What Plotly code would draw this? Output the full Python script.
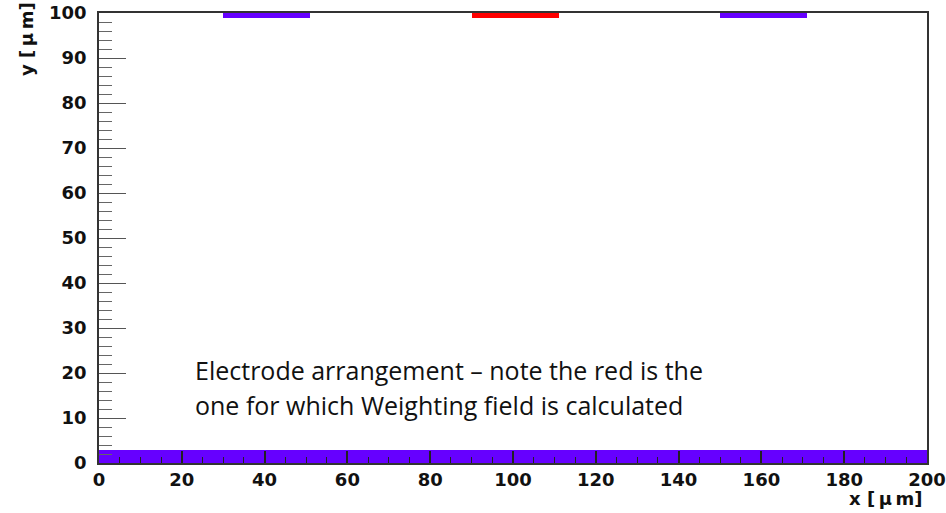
import plotly.graph_objects as go

# Electrode geometry (micrometres)
top_x0 = [30, 90, 150]
top_x1 = [51, 111, 171]
top_colors = ["#6600ff", "#ff0000", "#6600ff"]
top_y0 = 98.9
top_y1 = 100.0

back_x0 = 0
back_x1 = 200
back_y0 = 0
back_y1 = 3.0

x_range = [0, 200]
y_range = [0, 100]

x_title = "x [\u2009\u03bc\u2009m]"
y_title = "y [\u2009\u03bc\u2009m]"

note_lines = [
    "Electrode arrangement \u2013 note the red is the",
    "one for which Weighting field is calculated",
]
note_x = 22.8
note_y = [20.6, 12.8]

fig = go.Figure()

# Backplane electrode along the bottom
fig.add_trace(go.Bar(
    x=[(back_x0 + back_x1) / 2], width=[back_x1 - back_x0],
    base=[back_y0], y=[back_y1 - back_y0],
    marker=dict(color="#6600ff", line=dict(width=0)),
    hoverinfo="skip", showlegend=False,
))

# Readout strips along the top
fig.add_trace(go.Bar(
    x=[(a + b) / 2 for a, b in zip(top_x0, top_x1)],
    width=[b - a for a, b in zip(top_x0, top_x1)],
    base=[top_y0] * len(top_x0),
    y=[top_y1 - top_y0] * len(top_x0),
    marker=dict(color=top_colors, line=dict(width=0)),
    hoverinfo="skip", showlegend=False,
))

tick_font = dict(family="DejaVu Sans", size=18, color="#111", weight="bold")
title_font = dict(family="DejaVu Sans", size=18, color="#111", weight="bold")

fig.update_layout(
    width=946, height=513,
    margin=dict(l=99, r=19, t=13, b=50, autoexpand=False),
    paper_bgcolor="white", plot_bgcolor="white",
    barmode="overlay", bargap=0,
    xaxis=dict(
        range=x_range, tick0=0, dtick=20,
        ticks="inside", ticklen=12, tickwidth=1.5, tickcolor="#222",
        minor=dict(dtick=5, ticks="inside", ticklen=6, tickwidth=1.2, tickcolor="#222"),
        showline=True, linecolor="#333", linewidth=1.5, mirror=True,
        showgrid=False, zeroline=False, automargin=False,
        tickfont=tick_font, ticklabelstandoff=0,
    ),
    yaxis=dict(
        range=y_range, tick0=0, dtick=10,
        ticks="inside", ticklen=27, tickwidth=1.2, tickcolor="#555",
        minor=dict(dtick=2, ticks="inside", ticklen=13, tickwidth=1.2, tickcolor="#666"),
        showline=True, linecolor="#333", linewidth=1.5, mirror=True,
        showgrid=False, zeroline=False, automargin=False,
        tickfont=tick_font, ticklabelstandoff=7,
    ),
)

# Axis titles placed at the far ends of the axes
fig.add_annotation(
    text=x_title, xref="paper", yref="paper", x=1.0, y=0,
    xanchor="right", yanchor="top", yshift=-23, xshift=-2, showarrow=False,
    font=title_font,
)
fig.add_annotation(
    text=y_title, xref="paper", yref="paper", x=0, y=1.0,
    xanchor="center", yanchor="top", yshift=13, xshift=-73, showarrow=False,
    textangle=-90, font=title_font,
)

# Explanatory note, one annotation per line
for line, ly in zip(note_lines, note_y):
    fig.add_annotation(
        text=line, xref="x", yref="y", x=note_x, y=ly,
        xanchor="left", yanchor="middle", align="left", showarrow=False,
        font=dict(family="Open Sans", size=25, color="#111"),
    )

fig.write_html("out.html")
